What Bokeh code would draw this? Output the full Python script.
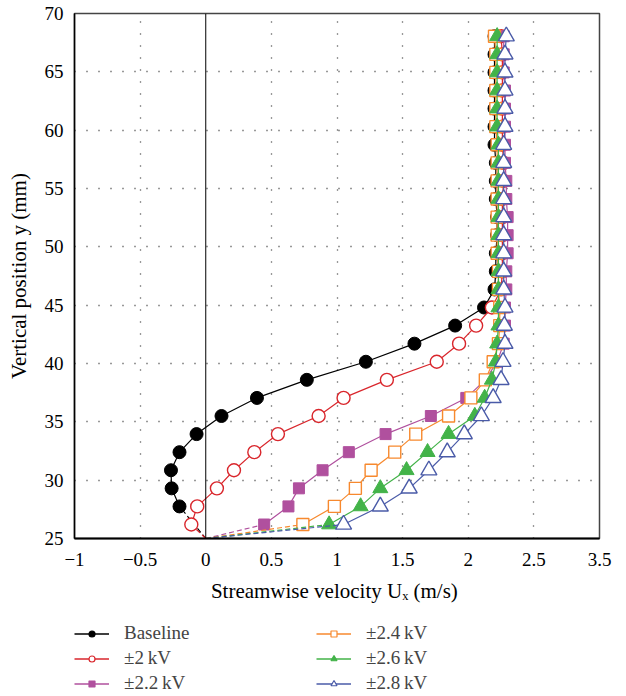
from bokeh.plotting import figure
from bokeh.layouts import column
from bokeh.models import (Range1d, FixedTicker, Span, Legend, LegendItem, ColumnDataSource)
from bokeh.embed import file_html
from bokeh.resources import INLINE

# ---------------- data ----------------
y_levels = [26.2, 27.75, 29.3, 30.85, 32.4, 33.95, 35.5, 37.05, 38.6, 40.15, 41.7,
            43.25, 44.8, 46.35, 47.9, 49.45, 51.0, 52.55, 54.1, 55.65, 57.2, 58.75,
            60.3, 61.85, 63.4, 64.95, 66.5, 68.05]

baseline_y = [27.75, 29.3, 30.85, 32.4, 33.95, 35.5, 37.05, 38.6, 40.15, 41.7,
              43.25, 44.8, 46.35, 47.9, 49.45, 51.0, 52.55, 54.1, 55.65, 57.2, 58.75,
              60.3, 61.85, 63.4, 64.95, 66.5, 68.05]
baseline_x = [-0.20, -0.26, -0.265, -0.20, -0.07, 0.12, 0.39, 0.77, 1.22, 1.59, 1.90,
              2.12, 2.20, 2.21, 2.21, 2.22, 2.22, 2.21, 2.21, 2.21, 2.20, 2.20, 2.20,
              2.20, 2.20, 2.20, 2.20]
kv20_x = [-0.11, -0.065, 0.085, 0.215, 0.37, 0.55, 0.86, 1.05, 1.38, 1.76, 1.93, 2.06,
          2.18, 2.25, 2.26, 2.26, 2.26, 2.26, 2.26, 2.27, 2.27, 2.26, 2.26, 2.26, 2.26,
          2.26, 2.26, 2.25]
kv22_x = [0.445, 0.63, 0.71, 0.89, 1.09, 1.37, 1.715, 1.985, 2.13, 2.22, 2.27, 2.28,
          2.28, 2.29, 2.29, 2.30, 2.30, 2.30, 2.29, 2.29, 2.28, 2.28, 2.28, 2.28, 2.28,
          2.27, 2.27, 2.27]
kv24_x = [0.74, 0.98, 1.14, 1.26, 1.44, 1.60, 1.85, 2.02, 2.13, 2.19, 2.23, 2.24, 2.24,
          2.23, 2.23, 2.22, 2.22, 2.22, 2.22, 2.22, 2.22, 2.22, 2.21, 2.21, 2.21, 2.21,
          2.21, 2.20]
kv26_x = [0.94, 1.18, 1.33, 1.53, 1.69, 1.85, 2.05, 2.125, 2.18, 2.21, 2.22, 2.23, 2.23,
          2.23, 2.23, 2.23, 2.23, 2.23, 2.23, 2.23, 2.23, 2.23, 2.22, 2.22, 2.22, 2.22,
          2.22, 2.22]
kv28_x = [1.05, 1.33, 1.55, 1.70, 1.84, 1.97, 2.10, 2.19, 2.25, 2.265, 2.28, 2.275, 2.28,
          2.27, 2.27, 2.27, 2.27, 2.27, 2.27, 2.27, 2.27, 2.27, 2.28, 2.28, 2.28, 2.28,
          2.28, 2.29]

wall_x = 0.0
wall_y = 25.0

x_ticks = [-1, -0.5, 0, 0.5, 1, 1.5, 2, 2.5, 3]
x_tick_labels = ["\u22121", "\u22120.5", "0", "0.5", "1", "1.5", "2", "2.5", "3.5"]
y_ticks = [25, 30, 35, 40, 45, 50, 55, 60, 65, 70]
x_grid = [-0.5, 0.5, 1, 1.5, 2, 2.5]
y_grid = [30, 35, 40, 45, 50, 55, 60, 65]

FONT = "Liberation Serif"

p = figure(frame_width=525, frame_height=525, output_backend="svg", toolbar_location=None,
           x_range=Range1d(-1, 3), y_range=Range1d(25, 70),
           min_border_left=74, min_border_right=27, min_border_top=13, min_border_bottom=72,
           background_fill_color="white", border_fill_color="white")

p.outline_line_color = "#444444"
p.outline_line_width = 1.5

for ax in (p.xaxis[0], p.yaxis[0]):
    ax.major_tick_line_color = None
    ax.minor_tick_line_color = None
    ax.major_tick_out = 0
    ax.major_tick_in = 0
    ax.axis_line_color = "black"
    ax.major_label_text_font = FONT
    ax.major_label_text_font_size = "19px"
    ax.major_label_text_color = "black"
    ax.axis_label_text_font = FONT
    ax.axis_label_text_font_style = "normal"
    ax.axis_label_text_font_size = "21px"
    ax.axis_label_text_color = "black"

p.xaxis.ticker = FixedTicker(ticks=x_ticks)
p.xaxis.major_label_overrides = {float(t): l for t, l in zip(x_ticks, x_tick_labels)}
p.xaxis.major_label_standoff = 14
p.xaxis.axis_line_width = 2
p.xaxis.axis_label = "Streamwise  velocity U\u2093 (m/s)"
p.xaxis.axis_label_standoff = 10

p.yaxis.ticker = FixedTicker(ticks=y_ticks)
p.yaxis.major_label_standoff = 11
p.yaxis.axis_line_width = 1.5
p.yaxis.axis_label = "Vertical position y (mm)"
p.yaxis.axis_label_standoff = 11

p.xgrid.ticker = FixedTicker(ticks=x_grid)
p.ygrid.ticker = FixedTicker(ticks=y_grid)
for g in (p.xgrid[0], p.ygrid[0]):
    g.grid_line_color = "#333333"
    g.grid_line_dash = "1 11"
    g.grid_line_width = 1.3

p.add_layout(Span(location=0, dimension="height", line_color="black", line_width=1))

series = [
    ("Baseline", baseline_x, baseline_y, "black", "circle", 13, "black", 1.0),
    ("\u00b12\u2009kV", kv20_x, y_levels, "#d9262c", "circle", 13, "white", 1.4),
    ("\u00b12.2\u2009kV", kv22_x, y_levels, "#b0509e", "square", 11, "#b0509e", 1.0),
    ("\u00b12.4\u2009kV", kv24_x, y_levels, "#f7892e", "square", 12, "white", 1.4),
    ("\u00b12.6\u2009kV", kv26_x, y_levels, "#43b349", "triangle", 15, "#43b349", 1.0),
    ("\u00b12.8\u2009kV", kv28_x, y_levels, "#4a5ba8", "triangle", 16, "white", 1.4),
]

# legend panel (separate figure below the chart)
pl = figure(width=626, height=86, output_backend="svg", toolbar_location=None,
            x_range=Range1d(0, 1), y_range=Range1d(0, 1),
            x_axis_type=None, y_axis_type=None, min_border=0,
            outline_line_color=None, background_fill_color="white",
            border_fill_color="white")
pl.xgrid.visible = False
pl.ygrid.visible = False

items = []
for label, xs, ys, col, mk, sz, fill, lw in series:
    # dashed extension to the wall point
    p.line([wall_x, xs[0]], [wall_y, ys[0]], line_color=col, line_width=1.2, line_dash="5 3")
    src = ColumnDataSource(dict(x=xs, y=ys))
    p.line("x", "y", source=src, line_color=col, line_width=1.2)
    p.scatter("x", "y", source=src, marker=mk, size=sz, line_color=col,
              fill_color=fill, line_width=lw)
    # legend proxies
    nan_src = ColumnDataSource(dict(x=[float("nan")], y=[float("nan")]))
    lr = pl.line("x", "y", source=nan_src, line_color=col, line_width=1.4)
    sr = pl.scatter("x", "y", source=nan_src, marker=mk, size=sz, line_color=col,
                    fill_color=fill, line_width=1.2)
    items.append(LegendItem(label=label, renderers=[lr, sr]))

legend = Legend(items=items, nrows=3, orientation="vertical", location=(0, 2),
                label_text_font=FONT, label_text_font_size="19px",
                glyph_width=35, glyph_height=15, label_standoff=15, label_width=189,
                spacing=3, padding=0, margin=0, border_line_color=None,
                background_fill_alpha=0)
pl.add_layout(legend, "center")

open("out.html", "w").write(file_html(column(p, pl, spacing=0), INLINE))
